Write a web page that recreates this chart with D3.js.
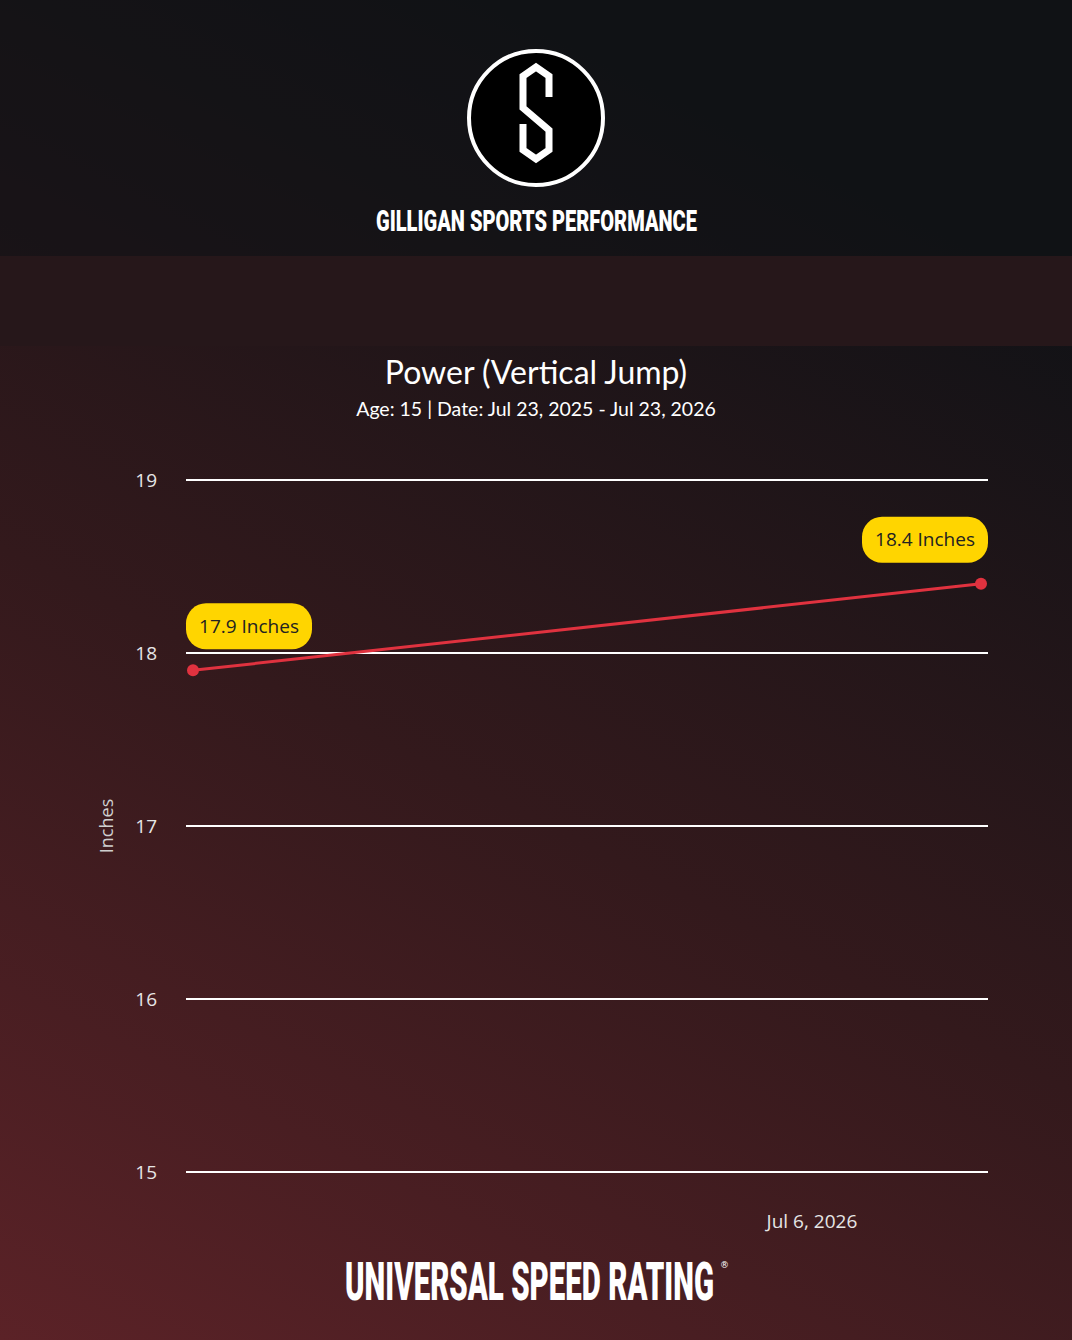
<!DOCTYPE html>
<html>
<head>
<meta charset="utf-8">
<script src="https://cdn.jsdelivr.net/npm/d3@7/dist/d3.min.js"></script>
<style>
html,body{margin:0;padding:0;background:#111215;}
svg{display:block;}
</style>
</head>
<body>
<svg id="chart" width="1072" height="1340"></svg>
<script>
// ---- data ----
const dates = ["2026-05-05", "2026-07-23"];
const values = [17.9, 18.4];
const pointLabels = ["17.9 Inches", "18.4 Inches"];
const yTicks = [15, 16, 17, 18, 19];
const xTickDates = ["2026-07-06"];
const xTickLabels = ["Jul 6, 2026"];
const titleText = "Power (Vertical Jump)";
const subtitleText = "Age: 15 | Date: Jul 23, 2025 - Jul 23, 2026";
const brandTop = "GILLIGAN SPORTS PERFORMANCE";
const brandBottom = "UNIVERSAL SPEED RATING";
const yAxisTitle = "Inches";

const W = 1072, H = 1340;
const svg = d3.select("#chart");
const defs = svg.append("defs");
const grad = defs.append("linearGradient").attr("id", "bg")
  .attr("gradientUnits", "userSpaceOnUse")
  .attr("x1", 0).attr("y1", 1340).attr("x2", 640).attr("y2", 80);
grad.append("stop").attr("offset", "0%").attr("stop-color", "#5b2227");
grad.append("stop").attr("offset", "50%").attr("stop-color", "#33191c");
grad.append("stop").attr("offset", "100%").attr("stop-color", "#111216");
svg.append("rect").attr("width", W).attr("height", H).attr("fill", "url(#bg)");

// header
svg.append("rect").attr("width", W).attr("height", 256).attr("fill", "#111215").attr("opacity", 0.6);
svg.append("rect").attr("y", 256).attr("width", W).attr("height", 90).attr("fill", "#26171a");

// logo
const logo = svg.append("g");
logo.append("circle").attr("cx", 536).attr("cy", 118).attr("r", 67)
  .attr("fill", "#000").attr("stroke", "#fff").attr("stroke-width", 4);
logo.append("path")
  .attr("d", "M549,97 L549,76 L536,67 L523,76 L523,108 L549,130 L549,150 L536,159 L523,150 L523,124")
  .attr("fill", "none").attr("stroke", "#fff").attr("stroke-width", 7).attr("stroke-linejoin", "miter");

svg.append("text").attr("x", 376).attr("y", 231)
  .attr("textLength", 321).attr("lengthAdjust", "spacingAndGlyphs")
  .attr("font-family", "Roboto, 'DejaVu Sans', sans-serif").attr("font-weight", 900)
  .attr("font-size", 30).attr("fill", "#fff").text(brandTop);

// titles
svg.append("text").attr("x", 536).attr("y", 384).attr("text-anchor", "middle")
  .attr("font-family", "Lato, sans-serif").attr("font-size", 32).attr("fill", "#fff").text(titleText);
svg.append("text").attr("x", 536).attr("y", 416).attr("text-anchor", "middle")
  .attr("font-family", "Lato, sans-serif").attr("font-size", 19.5).attr("fill", "#fff").text(subtitleText);

// scales
const parse = d3.utcParse("%Y-%m-%d");
const xDates = dates.map(parse);
const x = d3.scaleUtc().domain(d3.extent(xDates)).range([193, 981]);
const y = d3.scaleLinear().domain([15, 19]).range([1172, 480]);

const gridLeft = 186, gridRight = 988;

// y axis
const yAxis = d3.axisLeft(y).tickValues(yTicks).tickSize(0).tickPadding(0).tickFormat(d3.format("d"));
const gy = svg.append("g").attr("transform", `translate(157,0)`).call(yAxis);
gy.select(".domain").remove();
gy.selectAll("text").attr("font-family", "'Open Sans', sans-serif").attr("font-size", 19)
  .attr("fill", "#e6e6e6").attr("dy", "0.33em");

// gridlines
svg.append("g").selectAll("line").data(yTicks).join("line")
  .attr("x1", gridLeft).attr("x2", gridRight)
  .attr("y1", d => y(d)).attr("y2", d => y(d))
  .attr("stroke", "#fff").attr("stroke-width", 2);

// y title
svg.append("text").attr("transform", `translate(113,${y(17)}) rotate(-90)`)
  .attr("text-anchor", "middle").attr("font-family", "'Open Sans', sans-serif")
  .attr("font-size", 18).attr("fill", "#cfcfcf").text(yAxisTitle);

// x axis
const xAxis = d3.axisBottom(x).tickValues(xTickDates.map(parse)).tickSize(0).tickPadding(0)
  .tickFormat((d, i) => xTickLabels[i]);
const gx = svg.append("g").attr("transform", "translate(0,1214)").call(xAxis);
gx.select(".domain").remove();
gx.selectAll("text").attr("font-family", "'Open Sans', sans-serif").attr("font-size", 19)
  .attr("fill", "#e6e6e6");

// line
const pts = xDates.map((d, i) => ({ d, v: values[i], label: pointLabels[i] }));
svg.append("path").datum(pts)
  .attr("d", d3.line().x(p => x(p.d)).y(p => y(p.v)))
  .attr("fill", "none").attr("stroke", "#e0323f").attr("stroke-width", 3);
svg.append("g").selectAll("circle").data(pts).join("circle")
  .attr("cx", p => x(p.d)).attr("cy", p => y(p.v)).attr("r", 6).attr("fill", "#e0323f");

// labels
const bw = 126, bh = 46;
const lab = svg.append("g").selectAll("g").data(pts).join("g")
  .attr("transform", p => {
    let bx = x(p.d) - bw / 2;
    bx = Math.max(gridLeft, Math.min(gridRight - bw, bx));
    const by = y(p.v) - 21 - bh;
    return `translate(${bx},${by})`;
  });
lab.append("rect").attr("width", bw).attr("height", bh).attr("rx", 20).attr("ry", 20).attr("fill", "#ffd500");
lab.append("text").attr("x", bw / 2).attr("y", bh / 2).attr("dy", "0.35em").attr("text-anchor", "middle")
  .attr("font-family", "'Open Sans', sans-serif").attr("font-size", 19).attr("fill", "#222")
  .text(p => p.label);

// bottom brand
svg.append("text").attr("x", 345).attr("y", 1300)
  .attr("textLength", 369).attr("lengthAdjust", "spacingAndGlyphs")
  .attr("font-family", "Roboto, 'DejaVu Sans', sans-serif").attr("font-weight", 900)
  .attr("font-size", 53).attr("fill", "#fff").text(brandBottom);
svg.append("text").attr("x", 720).attr("y", 1268)
  .attr("font-family", "'DejaVu Sans', sans-serif").attr("font-size", 9).attr("fill", "#fff").text("®");
</script>
</body>
</html>
